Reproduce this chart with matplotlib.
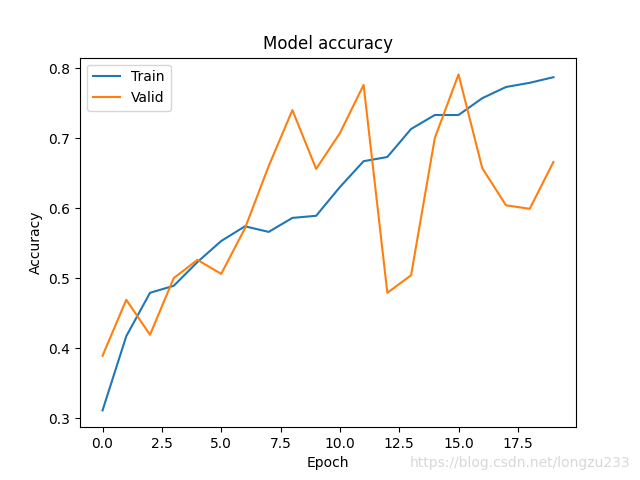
import matplotlib
matplotlib.use('Agg')
import matplotlib.pyplot as plt

epochs = list(range(20))
train_acc = [0.311, 0.417, 0.479, 0.489, 0.523, 0.553, 0.574, 0.566, 0.586, 0.589,
             0.630, 0.667, 0.673, 0.713, 0.733, 0.733, 0.757, 0.773, 0.779, 0.787]
valid_acc = [0.389, 0.469, 0.419, 0.500, 0.526, 0.506, 0.571, 0.660, 0.740, 0.656,
             0.707, 0.776, 0.479, 0.504, 0.700, 0.791, 0.657, 0.604, 0.599, 0.666]

fig = plt.figure(figsize=(6.4, 4.8), dpi=100)
plt.plot(epochs, train_acc)
plt.plot(epochs, valid_acc)
plt.title('Model accuracy')
plt.ylabel('Accuracy')
plt.xlabel('Epoch')
plt.legend(['Train', 'Valid'], loc='upper left')

# watermark
fig.text(0.985, 0.035, 'https://blog.csdn.net/longzu233', ha='right', va='center',
         fontsize=10, color='#d8d8d8')

plt.savefig('out.png')
